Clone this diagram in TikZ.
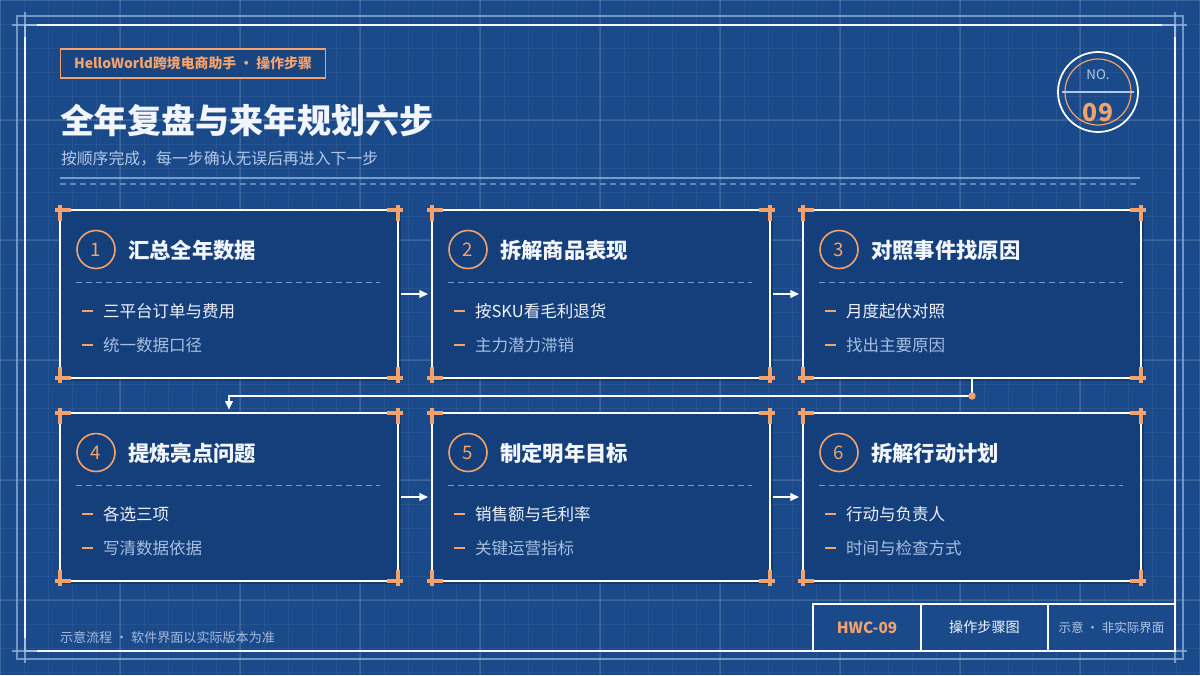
\documentclass[tikz,border=0pt]{standalone}
\usepackage{fontspec}
\setmainfont{Noto Sans CJK SC}
\usetikzlibrary{calc,arrows.meta}
\definecolor{bg}{HTML}{1A4A8A}
\definecolor{cardbg}{HTML}{143F7A}
\definecolor{org}{HTML}{F4A26B}
\definecolor{pale}{HTML}{B4C8E6}
\definecolor{bul}{HTML}{A6BFE1}
\definecolor{wtxt}{HTML}{F2F6FC}
\definecolor{frm}{HTML}{8FB1DD}
\tikzset{
  every node/.style={inner sep=0pt, outer sep=0pt},
  gridminor/.style={white, opacity=0.055, line width=0.6pt},
  gridmajor/.style={white, opacity=0.11, line width=0.8pt},
  cardbox/.style={draw=white, line width=1.1pt, fill=cardbg, minimum width=253.5pt, minimum height=126pt, anchor=north west},
  cardshadow/.style={fill=black, opacity=0.22},
  crossmark/.style={draw=org, line width=2.3pt},
  numcirc/.style={circle, draw=org, line width=1.2pt, minimum size=28.5pt, text=org, font=\fontsize{14pt}{16pt}\selectfont},
  cardtitle/.style={anchor=west, text=wtxt, font=\bfseries\fontsize{16pt}{19pt}\selectfont},
  carddash/.style={draw=frm, opacity=0.8, line width=0.7pt, dash pattern=on 4.5pt off 3pt},
  orgdash/.style={draw=org, line width=1.5pt},
  bulone/.style={anchor=west, text=wtxt!95!bul, font=\fontsize{12.4pt}{15pt}\selectfont},
  bultwo/.style={anchor=west, text=bul, font=\fontsize{12.4pt}{15pt}\selectfont},
  arr/.style={draw=white, line width=1.1pt, -{Triangle[length=6.5pt,width=5.8pt]}},
  cell/.style={draw=white, line width=1.1pt, fill=bg, minimum height=35.25pt},
}
\newcommand\stepcard[7]{%
  \fill[cardshadow] (#2+2,#3+2) rectangle (#2+341,#3+171);
  \node[cardbox] (#1) at (#2,#3) {};
  \draw[crossmark] (#2-5,#3) -- (#2+11,#3) (#2,#3-5) -- (#2,#3+11);
  \draw[crossmark] (#2+327,#3) -- (#2+343,#3) (#2+338,#3-5) -- (#2+338,#3+11);
  \draw[crossmark] (#2-5,#3+168) -- (#2+11,#3+168) (#2,#3+157) -- (#2,#3+173);
  \draw[crossmark] (#2+327,#3+168) -- (#2+343,#3+168) (#2+338,#3+157) -- (#2+338,#3+173);
  \node[numcirc] (#1n) at (#2+36,#3+39.5) {#4};
  \node[cardtitle] (#1t) at (#2+68,#3+40) {#5};
  \draw[carddash] (#2+16,#3+72) -- (#2+320,#3+72);
  \draw[orgdash] (#2+22,#3+101) -- (#2+33,#3+101);
  \node[bulone] (#1a) at (#2+43,#3+101) {#6};
  \draw[orgdash] (#2+22,#3+135) -- (#2+33,#3+135);
  \node[bultwo] (#1b) at (#2+43,#3+135) {#7};
}
\begin{document}
\begin{tikzpicture}[x=0.75pt,y=-0.75pt]
\useasboundingbox (0,0) rectangle (1200,675);
\fill[bg] (0,0) rectangle (1200,675);
% grid
\foreach \i in {0,24,...,1200} \draw[gridminor] (\i,0) -- (\i,675);
\foreach \i in {0,24,...,672} \draw[gridminor] (0,\i) -- (1200,\i);
\foreach \i in {0,120,...,1200} \draw[gridmajor] (\i,0) -- (\i,675);
\foreach \i in {0,120,...,600} \draw[gridmajor] (0,\i) -- (1200,\i);
% frames
\draw[frm, opacity=0.75, line width=1.2pt] (17,16) rectangle (1183,659);
\draw[white, opacity=0.95, line width=1.6pt] (25,25) rectangle (1175,651);
\foreach \cx/\cy in {25/25, 1175/25, 25/651, 1175/651}
  \draw[frm, opacity=0.8, line width=1pt] (\cx-13,\cy) -- (\cx+12,\cy) (\cx,\cy-13) -- (\cx,\cy+12);
% header badge
\node[draw=org, line width=1.1pt, fill=bg!92!black, minimum width=199pt, minimum height=22pt, text=org, font=\bfseries\fontsize{10.4pt}{12pt}\selectfont] (badge) at (193,63.5) {HelloWorld跨境电商助手 · 操作步骤};
\node[anchor=west, text=wtxt, font=\bfseries\fontsize{25.5pt}{30pt}\selectfont] (title) at (60,120) {全年复盘与来年规划六步};
\node[anchor=west, text=pale, font=\fontsize{11.9pt}{14pt}\selectfont] (subtitle) at (61,159) {按顺序完成，每一步确认无误后再进入下一步};
\draw[frm, opacity=0.8, line width=0.8pt] (60,178) -- (1140,178);
\draw[frm, opacity=0.6, line width=0.8pt, dash pattern=on 4.5pt off 3pt] (60,184) -- (1140,184);
% NO. badge
\node[circle, draw=white, line width=1.3pt, minimum size=60pt] (nobadge) at (1098,92) {};
\node[circle, draw=org, line width=0.9pt, minimum size=49.5pt] (nobadgein) at (1098,92) {};
\draw[pale, line width=0.8pt] (1062,92) -- (1134,92);
\node[text=pale, font=\fontsize{10pt}{12pt}\selectfont] (nolabel) at (1098,75) {NO.};
\node[text=org, font=\bfseries\fontsize{18.5pt}{21pt}\selectfont] (nonum) at (1098,113) {09};
% cards
\stepcard{c1}{60}{210}{1}{汇总全年数据}{三平台订单与费用}{统一数据口径}
\stepcard{c2}{432}{210}{2}{拆解商品表现}{按SKU看毛利退货}{主力潜力滞销}
\stepcard{c3}{803}{210}{3}{对照事件找原因}{月度起伏对照}{找出主要原因}
\stepcard{c4}{60}{413}{4}{提炼亮点问题}{各选三项}{写清数据依据}
\stepcard{c5}{432}{413}{5}{制定明年目标}{销售额与毛利率}{关键运营指标}
\stepcard{c6}{803}{413}{6}{拆解行动计划}{行动与负责人}{时间与检查方式}
% arrows
\draw[arr] ([xshift=2.5pt]c1.east) -- ([xshift=-3pt]c2.west);
\draw[arr] ([xshift=2.5pt]c2.east) -- ([xshift=-3pt]c3.west);
\draw[arr] ([xshift=2.5pt]c4.east) -- ([xshift=-3pt]c5.west);
\draw[arr] ([xshift=2.5pt]c5.east) -- ([xshift=-3pt]c6.west);
\coordinate (bend) at ($(c3.south)+(0,18)$);
\draw[arr] (c3.south) -- (bend) -| ([yshift=2.5pt]c4.north);
\fill[org] (bend) circle (2.8pt);
% footer
\node[cell, minimum width=81pt, text=org, font=\bfseries\fontsize{11.5pt}{13pt}\selectfont] (f1) at (867,627.5) {HWC-09};
\node[cell, minimum width=95.25pt, text=wtxt, font=\fontsize{10.6pt}{12pt}\selectfont] (f2) at (984.5,627.5) {操作步骤图};
\node[cell, minimum width=95.25pt, text=pale, font=\fontsize{9.4pt}{11pt}\selectfont] (f3) at (1111.5,627.5) {示意 · 非实际界面};
\node[anchor=west, text=pale!90!bg, font=\fontsize{9.8pt}{12pt}\selectfont] (foot) at (60,638) {示意流程 · 软件界面以实际版本为准};
\end{tikzpicture}
\end{document}
